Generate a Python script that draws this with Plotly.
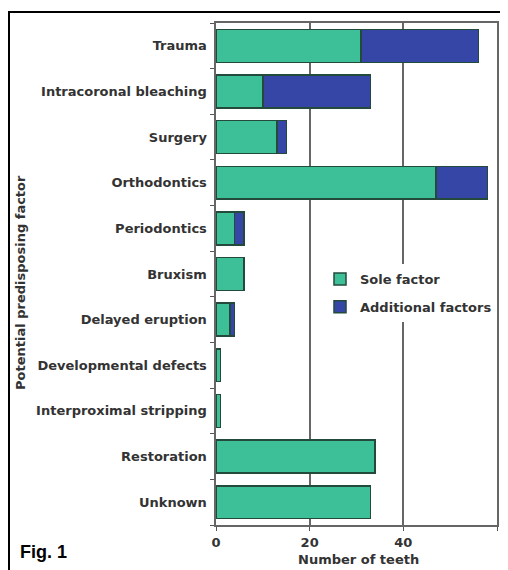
import plotly.graph_objects as go

categories = ["Trauma", "Intracoronal bleaching", "Surgery", "Orthodontics",
              "Periodontics", "Bruxism", "Delayed eruption", "Developmental defects",
              "Interproximal stripping", "Restoration", "Unknown"]
sole_factor = [31, 10, 13, 47, 4, 6, 3, 1, 1, 34, 33]
additional_factors = [25, 23, 2, 11, 2, 0, 1, 0, 0, 0, 0]
x_ticks = [0, 20, 40, 60]

# page is drawn with an 8px body margin; work in page coordinates
OFF = 8
RIGHT_EDGE = 500          # visible right edge of the page
W, H = RIGHT_EDGE - OFF, 570 - OFF
L, R, T = 216 - OFF, 3, 23 - OFF
B = H - (525 - OFF)
pw, ph = W - L - R, H - T - B

def px(x):
    return (x - OFF - L) / pw

def py(y):
    return 1 - (y - OFF - T) / ph

fnt = "DejaVu Sans, Liberation Sans, Arial, sans-serif"
dark = "#333333"

fig = go.Figure()
fig.add_trace(go.Bar(
    y=categories, x=sole_factor, orientation="h", name="Sole factor",
    legendgroup="sole",
    marker=dict(color="#3dbf98", line=dict(color="#244a3c", width=1.5)),
))
fig.add_trace(go.Bar(
    y=categories, x=additional_factors, orientation="h", name="Additional factors",
    legendgroup="additional",
    marker=dict(color="#3646a6", line=dict(color="#244a3c", width=1.5)),
))

fig.update_layout(
    width=W, height=H,
    margin=dict(l=L, r=R, t=T, b=B, pad=0, autoexpand=False),
    barmode="stack", bargap=0.28,
    paper_bgcolor="white", plot_bgcolor="white",
    font=dict(family=fnt, color=dark, size=12),
    legend=dict(
        x=px(320), y=py(264), xanchor="left", yanchor="top",
        bgcolor="white", traceorder="grouped",
        font=dict(family=fnt, size=13, color=dark, weight="bold"),
        itemwidth=30, tracegroupgap=8,
    ),
    xaxis=dict(
        range=[0, 60], tickvals=x_ticks, ticks="outside", ticklen=4, tickcolor="#555",
        showgrid=True, gridcolor="#666666", gridwidth=2,
        showline=True, linecolor="#666666", linewidth=2, mirror=True,
        zeroline=False,
        tickfont=dict(family=fnt, size=13, color=dark, weight="bold"),
    ),
    yaxis=dict(
        categoryorder="array", categoryarray=categories[::-1],
        ticks="outside", tickson="boundaries", ticklen=4, tickcolor="#555",
        showline=True, linecolor="#666666", linewidth=2, mirror=True,
        showgrid=False,
        tickfont=dict(family=fnt, size=13, color=dark, weight="bold"),
        ticksuffix=" ",
    ),
    shapes=[dict(type="rect", xref="paper", yref="paper",
                 x0=px(9), x1=px(530), y0=py(600), y1=py(12),
                 line=dict(color="black", width=2), layer="below")],
    annotations=[
        dict(text="Number of teeth", xref="paper", yref="paper",
             x=px(358), y=py(559), xanchor="center", yanchor="middle",
             showarrow=False,
             font=dict(family=fnt, size=13, color=dark, weight="bold")),
        dict(text="Potential predisposing factor", textangle=-90,
             xref="paper", yref="paper", x=px(20), y=py(283),
             xanchor="center", yanchor="middle", showarrow=False,
             font=dict(family=fnt, size=13, color=dark, weight="bold")),
        dict(text="Fig. 1", xref="paper", yref="paper", x=px(18), y=py(552),
             xanchor="left", yanchor="middle", showarrow=False,
             font=dict(family="Liberation Sans Narrow, Arial Narrow, sans-serif",
                       size=18, color="black", weight="bold")),
    ],
)

fig.write_html("out.html")
